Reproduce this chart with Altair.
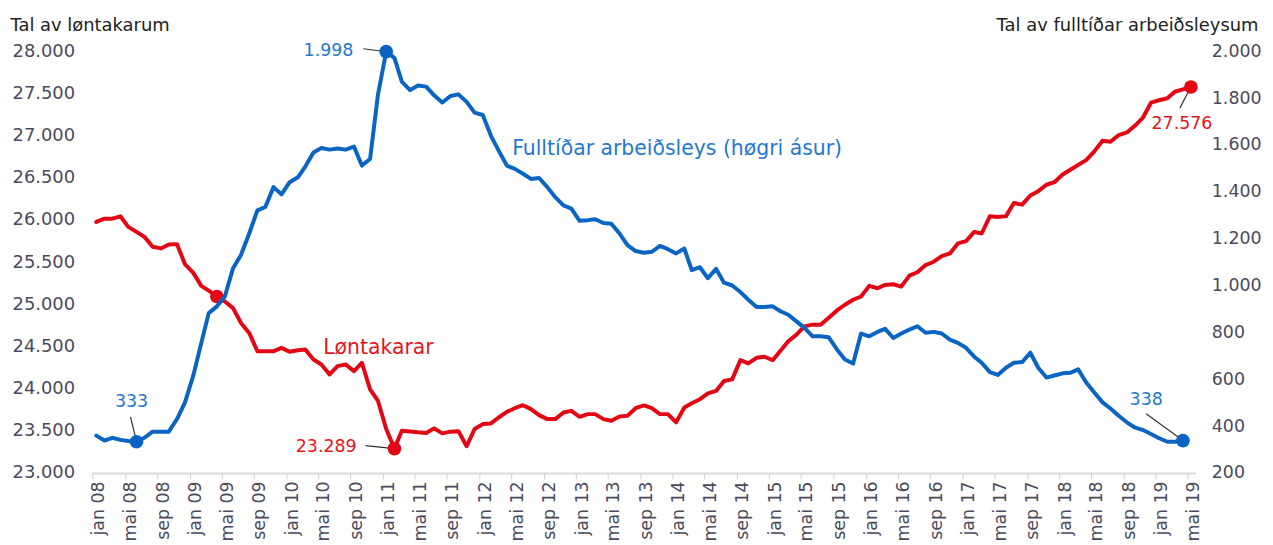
import json
import altair as alt
import pandas as pd

# ---------------- data ----------------
lontakarar = [
    25976, 26015, 26015, 26043, 25917, 25858, 25799, 25681, 25662, 25709, 25713, 25477,
    25375, 25218, 25162, 25092, 25033, 24954, 24778, 24660, 24443, 24443, 24443, 24483,
    24436, 24455, 24463, 24345, 24286, 24168, 24266, 24286, 24207, 24306, 23991, 23853,
    23520, 23289, 23500, 23492, 23481, 23473, 23528, 23469, 23489, 23495, 23316, 23520,
    23579, 23587, 23657, 23724, 23767, 23803, 23756, 23685, 23638, 23638, 23716, 23736,
    23665, 23697, 23697, 23638, 23618, 23669, 23677, 23767, 23800, 23767, 23697, 23697,
    23599, 23776, 23826, 23874, 23944, 23972, 24089, 24109, 24337, 24298, 24365, 24377,
    24337, 24455, 24561, 24640, 24738, 24758, 24758, 24840, 24926, 24994, 25053, 25092,
    25218, 25190, 25229, 25237, 25209, 25339, 25379, 25465, 25504, 25571, 25603, 25721,
    25748, 25858, 25839, 26043, 26035, 26045, 26200, 26181, 26290, 26341, 26417, 26447,
    26538, 26597, 26652, 26711, 26813, 26939, 26927, 27006, 27037, 27116, 27214, 27390,
    27419, 27442, 27520, 27548, 27576,
]
arbeidsleys = [
    359, 338, 350, 341, 336, 333, 350, 376, 376, 376, 430, 500,
    613, 755, 882, 911, 953, 1074, 1130, 1222, 1321, 1335, 1420, 1389,
    1441, 1462, 1508, 1568, 1587, 1580, 1585, 1580, 1593, 1512, 1540, 1816,
    1998, 1972, 1870, 1834, 1854, 1849, 1812, 1781, 1809, 1816, 1784, 1738,
    1728, 1639, 1576, 1512, 1498, 1477, 1455, 1459, 1420, 1377, 1342, 1328,
    1276, 1279, 1283, 1267, 1264, 1222, 1172, 1147, 1140, 1144, 1169, 1155,
    1137, 1158, 1066, 1078, 1031, 1071, 1012, 1000, 972, 939, 908, 908,
    911, 889, 875, 847, 819, 783, 783, 779, 727, 684, 667, 795,
    783, 802, 815, 776, 795, 812, 826, 798, 802, 795, 769, 755,
    734, 696, 670, 630, 618, 649, 670, 673, 713, 649, 607, 616,
    625, 628, 642, 585, 543, 501, 475, 444, 416, 394, 383, 366,
    348, 333, 333, 338,
]
month_names = ["jan", "feb", "mar", "apr", "mai", "jun", "jul", "aug", "sep", "okt", "nov", "des"]
left_ticks = [23000, 23500, 24000, 24500, 25000, 25500, 26000, 26500, 27000, 27500, 28000]
right_ticks = [200, 400, 600, 800, 1000, 1200, 1400, 1600, 1800, 2000]

months = pd.date_range("2008-01-01", periods=len(lontakarar), freq="MS") + pd.Timedelta(days=13)
dates = [d.strftime("%Y-%m-%d") for d in months]

red_df = pd.DataFrame({"date": dates, "value": lontakarar})
blue_df = pd.DataFrame({"date": dates[: len(arbeidsleys)], "value": arbeidsleys})


def ms(s):
    return int(pd.Timestamp(s, tz="UTC").timestamp() * 1000)


def fmt(v):
    return f"{v:,}".replace(",", ".")


RED = "#e30613"
RED_TXT = "#e8141c"
BLUE = "#0a64c4"
BLUE_TXT = "#1f78d2"
FONT = "DejaVu Sans"
LABEL_COL = "#4a4a5c"

x_scale = alt.Scale(type="utc", domain=[ms("2007-12-27"), ms("2019-05-31")], nice=False)
tick_values = [ms(d) for d in pd.date_range("2008-01-01", "2019-05-01", freq="4MS")]
label_expr = f"{json.dumps(month_names)}[utcmonth(datum.value)] + ' ' + utcFormat(datum.value, '%y')"

x_axis = alt.Axis(
    values=tick_values, labelExpr=label_expr, labelAngle=270, labelFontSize=17.5,
    labelColor=LABEL_COL, labelOffset=6, labelPadding=2, labelOverlap=False,
    labelFlush=False, labelBound=False, tickSize=6, tickColor="#d0d0d0", tickWidth=1,
    domainColor="#d9d9d9", domainWidth=2, grid=False, title=None,
)
X_main = alt.X("date:T", scale=x_scale, axis=x_axis)
num_expr = "replace(format(datum.value, ','), ',', '.')"

red_scale = alt.Scale(domain=[23000, 28000], nice=False, zero=False)
blue_scale = alt.Scale(domain=[200, 2000], nice=False, zero=False)

left_axis = alt.Axis(
    orient="left", values=left_ticks, labelExpr=num_expr, labelFontSize=18,
    labelColor=LABEL_COL, labelPadding=17, ticks=False, domain=False, grid=False,
    title="Tal av løntakarum", titleAngle=0, titleAlign="left", titleBaseline="middle",
    titleX=-82, titleY=-26, titleFontSize=18, titleFontWeight="normal", titleColor="#222222",
)
right_axis = alt.Axis(
    orient="right", values=right_ticks, labelExpr=num_expr, labelFontSize=17.5,
    labelColor=LABEL_COL, labelPadding=16, ticks=False, domain=False, grid=False,
    title="Tal av fulltíðar arbeiðsleysum", titleAngle=0, titleAlign="right",
    titleBaseline="middle", titleX=63, titleY=-26, titleFontSize=18,
    titleFontWeight="normal", titleColor="#222222",
)
Y_red = alt.Y("value:Q", scale=red_scale, axis=left_axis)
Y_blue = alt.Y("value:Q", scale=blue_scale, axis=right_axis)


def annotation(df, idx, Y, color, txt_color, dx, dy, align, lx, ly, show_label=True):
    row = df.iloc[[idx]].copy()
    row["label"] = fmt(int(row["value"].iloc[0]))
    layers = []
    if show_label:
        rule = alt.Chart(row).mark_rule(color="#333333", strokeWidth=1.2, x2Offset=lx, y2Offset=ly).encode(
            x=X_main, y=Y, x2=alt.X2("date:T"), y2=alt.Y2("value:Q")
        )
        layers.append(rule)
    dot = alt.Chart(row).mark_circle(size=190, color=color, opacity=1).encode(x=X_main, y=Y)
    layers.append(dot)
    if show_label:
        txt = alt.Chart(row).mark_text(
            color=txt_color, fontSize=17.5, font=FONT, dx=dx, dy=dy, align=align, baseline="middle"
        ).encode(x=X_main, y=Y, text="label:N")
        layers.append(txt)
    return layers


red_line = alt.Chart(red_df).mark_line(color=RED, strokeWidth=4, strokeJoin="round", strokeCap="round").encode(
    x=X_main, y=Y_red
)
blue_line = alt.Chart(blue_df).mark_line(color=BLUE, strokeWidth=4, strokeJoin="round", strokeCap="round").encode(
    x=X_main, y=Y_blue
)

red_label = alt.Chart(pd.DataFrame({"t": ["Løntakarar"]})).mark_text(
    color=RED_TXT, fontSize=20.5, font=FONT, align="left", baseline="middle"
).encode(x=alt.value(233), y=alt.value(298), text="t:N")
blue_label = alt.Chart(pd.DataFrame({"t": ["Fulltíðar arbeiðsleys (høgri ásur)"]})).mark_text(
    color=BLUE_TXT, fontSize=20.5, font=FONT, align="left", baseline="middle"
).encode(x=alt.value(423), y=alt.value(98), text="t:N")

red_layers = [red_line]
red_layers += annotation(red_df, 15, Y_red, RED, RED_TXT, 0, 0, "center", 0, 0, show_label=False)
red_layers += annotation(red_df, 37, Y_red, RED, RED_TXT, -38, -2, "right", -29, -3)
red_layers += annotation(red_df, len(lontakarar) - 1, Y_red, RED, RED_TXT, -9, 37, "center", -11, 21)
red_layers.append(red_label)

blue_layers = [blue_line]
blue_layers += annotation(blue_df, 5, Y_blue, BLUE, BLUE_TXT, -5, -40, "center", -6, -25)
blue_layers += annotation(blue_df, 36, Y_blue, BLUE, BLUE_TXT, -33, -1, "right", -23, -3)
blue_layers += annotation(blue_df, len(arbeidsleys) - 1, Y_blue, BLUE, BLUE_TXT, -37, -41, "center", -37, -27)
blue_layers.append(blue_label)

red_group = alt.layer(*red_layers)
blue_group = alt.layer(*blue_layers)

chart = (
    alt.layer(red_group, blue_group)
    .resolve_scale(y="independent")
    .properties(
        width=1110, height=424,
        autosize=alt.AutoSizeParams(type="none"),
        padding={"left": 84, "top": 42, "right": 70, "bottom": 70},
        background="white",
    )
    .configure_view(stroke="transparent")
    .configure_axis(labelFont=FONT, titleFont=FONT)
    .configure_text(font=FONT)
)

chart.save("out.html", embed_options={"renderer": "svg", "actions": False})
